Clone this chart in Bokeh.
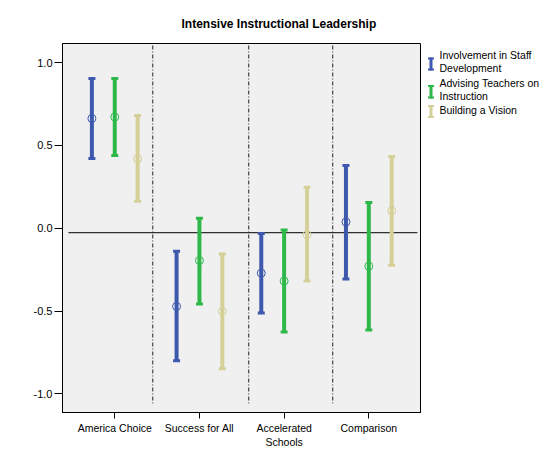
from bokeh.plotting import figure
from bokeh.layouts import row
from bokeh.models import (ColumnDataSource, FixedTicker, NumeralTickFormatter, Range1d, Title)
from bokeh.core.properties import value
from bokeh.embed import file_html
from bokeh.resources import INLINE

categories = ["America Choice", "Success for All", "Accelerated\nSchools", "Comparison"]
series = ["Involvement in Staff\nDevelopment", "Advising Teachers on\nInstruction", "Building a Vision"]
colors = ["#3d58ad", "#2fb84a", "#d5cf98"]

staff_mean = [0.663, -0.472, -0.271, 0.038]
staff_low = [0.422, -0.801, -0.512, -0.307]
staff_high = [0.904, -0.139, -0.032, 0.379]

advising_mean = [0.672, -0.195, -0.319, -0.229]
advising_low = [0.440, -0.458, -0.627, -0.615]
advising_high = [0.904, 0.060, -0.010, 0.155]

vision_mean = [0.419, -0.502, -0.038, 0.105]
vision_low = [0.163, -0.849, -0.319, -0.223]
vision_high = [0.681, -0.155, 0.247, 0.434]

reference_value = -0.027
divider_positions = [1.449, 2.582, 3.574]
y_ticks = [-1.0, -0.5, 0.0, 0.5, 1.0]

means = [staff_mean, advising_mean, vision_mean]
lows = [staff_low, advising_low, vision_low]
highs = [staff_high, advising_high, vision_high]
offsets = [-0.27, 0.0, 0.27]

FONT = "Liberation Sans"
H = 455
TOP, BOTTOM = 43, 43
p = figure(width=421, height=H, output_backend="svg", toolbar_location=None,
           x_range=Range1d(0.383, 4.622), y_range=Range1d(-1.113, 1.116),
           min_border_left=62, min_border_right=0, min_border_top=TOP, min_border_bottom=BOTTOM)
p.background_fill_color = "#f0f0f0"
p.border_fill_color = "white"
p.outline_line_color = "black"
p.outline_line_width = 1
p.xgrid.visible = False
p.ygrid.visible = False

p.title = Title(text="Intensive Instructional Leadership", align="left", offset=119,
                text_font=FONT, text_font_size="12px", text_font_style="bold",
                text_color="black", standoff=26)

# dividers between schools
p.segment(x0=divider_positions, x1=divider_positions, y0=[1.104] * 3, y1=[-1.058] * 3,
          line_color="#222222", line_width=1, line_dash="4 2 1 2")
# reference line
p.segment(x0=[0.453], x1=[4.574], y0=[reference_value], y1=[reference_value],
          line_color="black", line_width=1)

for k in range(3):
    xs = [i + 1 + offsets[k] for i in range(len(categories))]
    src = ColumnDataSource(dict(x=xs, lo=lows[k], hi=highs[k], m=means[k],
                                mid=[(a + b) / 2 for a, b in zip(lows[k], highs[k])],
                                h=[b - a for a, b in zip(lows[k], highs[k])]))
    p.rect(x="x", y="mid", width=4, height="h", width_units="screen", source=src,
           fill_color=colors[k], line_color=None)
    p.rect(x="x", y="hi", width=7, height=3, width_units="screen", height_units="screen",
           source=src, fill_color=colors[k], line_color=None)
    p.rect(x="x", y="lo", width=7, height=3, width_units="screen", height_units="screen",
           source=src, fill_color=colors[k], line_color=None)
    p.scatter(x="x", y="m", marker="circle", size=8, fill_color=None,
              line_color=colors[k], line_width=1, source=src)

# axes
p.xaxis.ticker = FixedTicker(ticks=[1, 2, 3, 4])
p.xaxis.major_label_overrides = {i + 1: c for i, c in enumerate(categories)}
p.yaxis.ticker = FixedTicker(ticks=y_ticks)
p.yaxis.formatter = NumeralTickFormatter(format="0.0")
for ax in (p.xaxis, p.yaxis):
    ax.axis_line_color = "black"
    ax.major_tick_line_color = "black"
    ax.minor_tick_line_color = None
    ax.major_tick_in = 0
    ax.major_label_text_font = FONT
    ax.major_label_text_color = "black"
p.xaxis.major_tick_out = 6
p.yaxis.major_tick_out = 8
p.xaxis.major_label_text_font_size = "10.5px"
p.yaxis.major_label_text_font_size = "11px"
p.xaxis.major_label_standoff = 3
p.yaxis.major_label_standoff = 2

# legend panel: its frame is aligned with the main frame (page y 43..412),
# so the range maps directly to pixel rows (y downwards)
lg = figure(width=124, height=H, output_backend="svg", toolbar_location=None,
            x_range=Range1d(0, 124), y_range=Range1d(H - BOTTOM, TOP),
            x_axis_location=None, y_axis_location=None,
            min_border_left=0, min_border_right=0, min_border_top=TOP, min_border_bottom=BOTTOM)
lg.outline_line_color = None
lg.xgrid.visible = False
lg.ygrid.visible = False
lg.background_fill_color = "white"
lg.border_fill_color = "white"

entry_top = [48, 76, 103]          # layout: top of each legend text block
icon_span = [(57, 70), (84.5, 98), (104.5, 117.5)]
for k in range(3):
    t, b = icon_span[k]
    lg.rect(x=[9.5], y=[(t + b) / 2], width=3, height=b - t,
            fill_color=colors[k], line_color=None)
    lg.rect(x=[9.5, 9.5], y=[t + 1, b - 1], width=6, height=2,
            fill_color=colors[k], line_color=None)
    lg.text(x=[18], y=[entry_top[k]], text=[series[k]], text_font=value(FONT),
            text_font_size="10.5px", text_color="black", text_baseline="top",
            text_line_height=1.12)

layout = row(p, lg)
open("out.html", "w").write(file_html(layout, INLINE))
